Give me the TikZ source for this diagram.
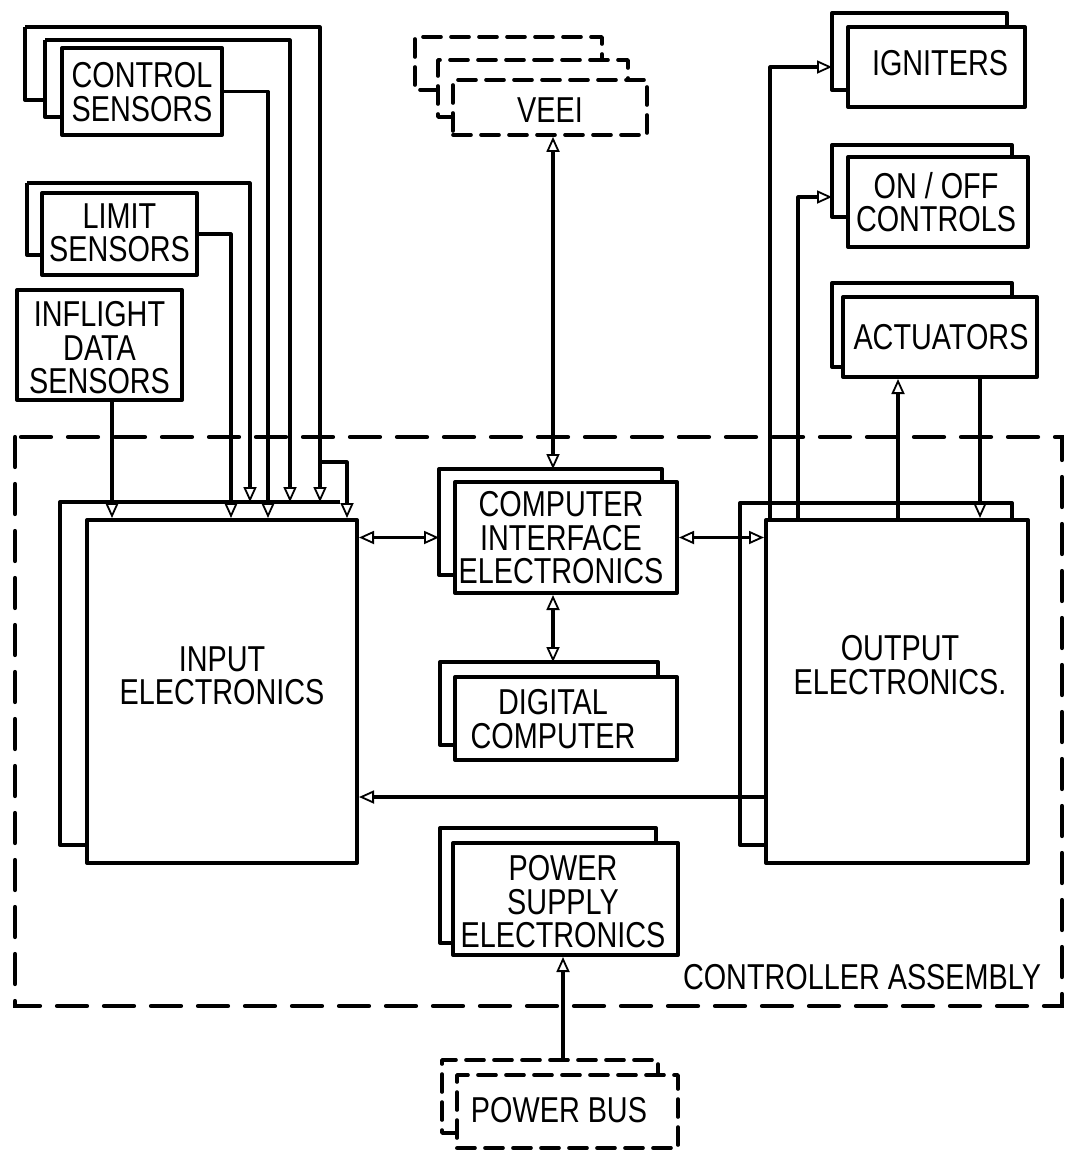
\documentclass[tikz,border=0pt]{standalone}
\usepackage{fontspec}
\setmainfont{Liberation Sans}[FakeStretch=0.8]
\usetikzlibrary{arrows.meta}
\tikzset{
  otri/.tip={Triangle[length=15pt,width=13pt,line width=1.8pt,fill=white]},
  fbox/.style={draw,line width=4pt,fill=white,inner sep=0pt,line join=round,rectangle},
  dfbox/.style={fbox,line width=3.6pt,dash pattern=on 18pt off 10pt,line cap=round},
  bbox/.style={draw,line width=4pt,line join=round},
  dbbox/.style={draw,line width=3.6pt,dash pattern=on 18pt off 10pt,line cap=round,line join=round},
  conn/.style={draw,line width=3.2pt,line join=round},
  lbl/.style={font=\fontsize{36}{33.5}\selectfont,align=center,inner sep=0pt},
  assy/.style={draw,line width=4.2pt,dash pattern=on 30pt off 17pt,line cap=round}
}
\begin{document}
\begin{tikzpicture}[x=1pt,y=-1pt]
\useasboundingbox (0,0) rectangle (1065,1154);
% controller assembly boundary
\draw[assy] (15,437) rectangle (1062,1006);
\node[lbl] (calbl) at (862,977) {CONTROLLER ASSEMBLY};

% ---------- back boxes (stacked units) ----------
\coordinate (ctrlB1) at (45,40);
\coordinate (ctrlB2) at (25,27);
\coordinate (limB) at (27,183);
\coordinate (inpB) at (60,502);
\coordinate (outB) at (740,503);
\coordinate (cieB) at (439,469);
\coordinate (dcB) at (440,662);
\coordinate (pseB) at (440,828);
\coordinate (pbB) at (442,1060);
\coordinate (veeiB1) at (438,60);
\coordinate (veeiB2) at (415,37);
\coordinate (ignB) at (832,13);
\coordinate (onoffB) at (832,145);
\coordinate (actB) at (832,283);

\draw[bbox] (62,117) -| (ctrlB1);
\draw[bbox] (45,100) -| (ctrlB2);
\draw[bbox] (42,255) -| (limB);
\draw[bbox] (87,845) -| (inpB) -- (340,502);
\draw[bbox] (766,845) -| (outB) -| (1012,520);
\draw[bbox] (455,575) -| (cieB) -| (662,482);
\draw[bbox] (455,745) -| (dcB) -| (658,677);
\draw[bbox] (453,943) -| (pseB) -| (656,843);
\draw[dbbox] (457,1133) -| (pbB) -| (658,1075);
\draw[dbbox] (438,90) -| (veeiB2) -| (602,60);
\draw[dbbox] (453,117) -| (veeiB1) -| (628,80);
\draw[bbox] (848,90) -| (ignB) -| (1007,27);
\draw[bbox] (848,217) -| (onoffB) -| (1012,157);
\draw[bbox] (843,367) -| (actB) -| (1012,297);

% ---------- front boxes ----------
\node[fbox,minimum width=160pt,minimum height=87pt] (ctrl) at (142,91.5) {};
\node[lbl] at (142,92) {CONTROL\\SENSORS};
\node[fbox,minimum width=155pt,minimum height=82pt] (lim) at (119.5,234) {};
\node[lbl] at (119.5,233) {LIMIT\\SENSORS};
\node[fbox,minimum width=165pt,minimum height=110pt] (infl) at (99.5,345) {};
\node[lbl] at (99.5,348) {INFLIGHT\\DATA\\SENSORS};
\node[fbox,minimum width=270pt,minimum height=343pt] (inp) at (222,691.5) {};
\node[lbl] at (222,676) {INPUT\\ELECTRONICS};
\node[fbox,minimum width=222pt,minimum height=111pt] (cie) at (566,537.5) {};
\node[lbl] at (561,538) {COMPUTER\\INTERFACE\\ELECTRONICS};
\node[fbox,minimum width=222pt,minimum height=83pt] (dc) at (566,718.5) {};
\node[lbl] at (553,719) {DIGITAL\\COMPUTER};
\node[fbox,minimum width=225pt,minimum height=112pt] (pse) at (565.5,899) {};
\node[lbl] at (563,902) {POWER\\SUPPLY\\ELECTRONICS};
\node[dfbox,minimum width=221pt,minimum height=73pt] (pb) at (567.5,1111.5) {};
\node[lbl] at (559,1110) {POWER BUS};
\node[dfbox,minimum width=194pt,minimum height=55pt] (veei) at (550,107.5) {};
\node[lbl] at (550,110) {VEEI};
\node[fbox,minimum width=177pt,minimum height=80pt] (ign) at (936.5,67) {};
\node[lbl] at (940,63) {IGNITERS};
\node[fbox,minimum width=180pt,minimum height=90pt] (onoff) at (938,202) {};
\node[lbl] at (936,202) {ON / OFF\\CONTROLS};
\node[fbox,minimum width=194pt,minimum height=80pt] (act) at (940,337) {};
\node[lbl] at (941,337) {ACTUATORS};
\node[fbox,minimum width=262pt,minimum height=343pt] (out) at (897,691.5) {};
\node[lbl] at (900,665) {OUTPUT\\ELECTRONICS.};

% ---------- connectors: sensors -> input electronics ----------
\draw[conn,-otri] ([xshift=12.5pt]infl.south) -- (112,0 |- inp.north);
\draw[conn,-otri] (lim.east) -| (231,0 |- inp.north);
\draw[conn,-otri] (limB) -| (250,0 |- inpB);
\draw[conn,-otri] (ctrl.east) -| (268,0 |- inp.north);
\draw[conn,-otri] (ctrlB1) -| (290,0 |- inpB);
\draw[conn,-otri] (ctrlB2) -| (320,0 |- inpB);
\coordinate (split) at (320,462);
\draw[conn,-otri] (split) -| (347,0 |- inp.north);

% ---------- central connectors ----------
\draw[conn,otri-otri] (inp.east |- cie.west) -- (cieB |- cie.west);
\draw[conn,otri-otri] (cie.east) -- (out.west |- cie.east);
\draw[conn,-otri] (out.west |- 0,797) -- (inp.east |- 0,797);
\draw[conn,otri-otri] (553,0 |- veei.south) -- (553,0 |- cieB);
\draw[conn,otri-otri] (553,0 |- cie.south) -- (553,0 |- dcB);
\draw[conn,-otri] (563,0 |- pbB) -- (563,0 |- pse.south);

% ---------- output electronics -> effectors ----------
\draw[conn,-otri] (770,0 |- out.north) |- (ignB |- ign.west);
\draw[conn,-otri] (798,0 |- out.north) |- (onoffB |- 0,197);
\draw[conn,-otri] (898,0 |- out.north) -- (898,0 |- act.south);
\draw[conn,-otri] (980,0 |- act.south) -- (980,0 |- out.north);
\end{tikzpicture}
\end{document}
